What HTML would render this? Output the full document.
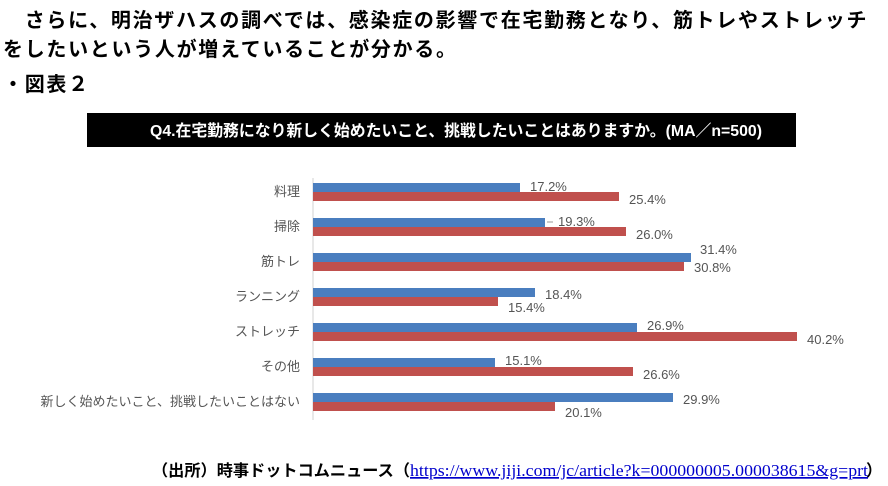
<!DOCTYPE html>
<html><head><meta charset="utf-8"><style>
body{margin:0;background:#fff;width:888px;height:486px;overflow:hidden;font-family:"Liberation Sans","Noto Sans CJK JP",sans-serif;}
.t{position:absolute;font-weight:bold;font-size:20px;letter-spacing:1.7px;color:#000;white-space:nowrap;}
</style></head><body>
<div class="t" style="left:3px;top:4px;">　さらに、明治ザハスの調べでは、感染症の影響で在宅勤務となり、筋トレやストレッチ</div>
<div class="t" style="left:3px;top:33px;">をしたいという人が増えていることが分かる。</div>
<div class="t" style="left:3px;top:68px;">・図表２</div>
<svg width="888" height="486" style="position:absolute;left:0;top:0" font-family="Liberation Sans, Noto Sans CJK JP, sans-serif">
<rect x="87" y="113" width="709" height="34" fill="#000"/>
<text x="150" y="136" fill="#fff" font-size="16" font-weight="bold" textLength="612" lengthAdjust="spacingAndGlyphs">Q4.在宅勤務になり新しく始めたいこと、挑戦したいことはありますか。(MA／n=500)</text>
<line x1="313" y1="178" x2="313" y2="420" stroke="#d0d0d0" stroke-width="1"/>
<g font-size="13" fill="#555">
<g transform="translate(0,192)"><text x="300" y="4" text-anchor="end">料理</text>
<rect x="313" y="-9" width="207" height="9" fill="#4a7ebf"/><rect x="313" y="0" width="306" height="9" fill="#c0504d"/>
<text x="530" y="-1">17.2%</text><text x="629" y="12">25.4%</text></g>
<g transform="translate(0,227)"><text x="300" y="4" text-anchor="end">掃除</text>
<rect x="313" y="-9" width="232" height="9" fill="#4a7ebf"/><rect x="313" y="0" width="313" height="9" fill="#c0504d"/>
<line x1="547" y1="-5" x2="553" y2="-5" stroke="#999"/>
<text x="558" y="-1">19.3%</text><text x="636" y="12">26.0%</text></g>
<g transform="translate(0,262)"><text x="300" y="4" text-anchor="end">筋トレ</text>
<rect x="313" y="-9" width="378" height="9" fill="#4a7ebf"/><rect x="313" y="0" width="371" height="9" fill="#c0504d"/>
<text x="700" y="-8">31.4%</text><text x="694" y="10">30.8%</text></g>
<g transform="translate(0,297)"><text x="300" y="4" text-anchor="end">ランニング</text>
<rect x="313" y="-9" width="222" height="9" fill="#4a7ebf"/><rect x="313" y="0" width="185" height="9" fill="#c0504d"/>
<text x="545" y="2">18.4%</text><text x="508" y="15">15.4%</text></g>
<g transform="translate(0,332)"><text x="300" y="4" text-anchor="end">ストレッチ</text>
<rect x="313" y="-9" width="324" height="9" fill="#4a7ebf"/><rect x="313" y="0" width="484" height="9" fill="#c0504d"/>
<text x="647" y="-2">26.9%</text><text x="807" y="12">40.2%</text></g>
<g transform="translate(0,367)"><text x="300" y="4" text-anchor="end">その他</text>
<rect x="313" y="-9" width="182" height="9" fill="#4a7ebf"/><rect x="313" y="0" width="320" height="9" fill="#c0504d"/>
<text x="505" y="-2">15.1%</text><text x="643" y="12">26.6%</text></g>
<g transform="translate(0,402)"><text x="300" y="4" text-anchor="end">新しく始めたいこと、挑戦したいことはない</text>
<rect x="313" y="-9" width="360" height="9" fill="#4a7ebf"/><rect x="313" y="0" width="242" height="9" fill="#c0504d"/>
<text x="683" y="2">29.9%</text><text x="565" y="15">20.1%</text></g>
</g>
<text x="152" y="476" font-size="16" font-weight="bold" fill="#000" textLength="258" lengthAdjust="spacingAndGlyphs">（出所）時事ドットコムニュース（</text>
<text x="410" y="476" font-size="17" font-family="Liberation Serif, serif" fill="#00c" text-decoration="underline" textLength="458" lengthAdjust="spacingAndGlyphs">https://www.jiji.com/jc/article?k=000000005.000038615&amp;g=prt</text>
<text x="866" y="476" font-size="16" font-weight="bold" fill="#000">）</text>
</svg>
</body></html>
